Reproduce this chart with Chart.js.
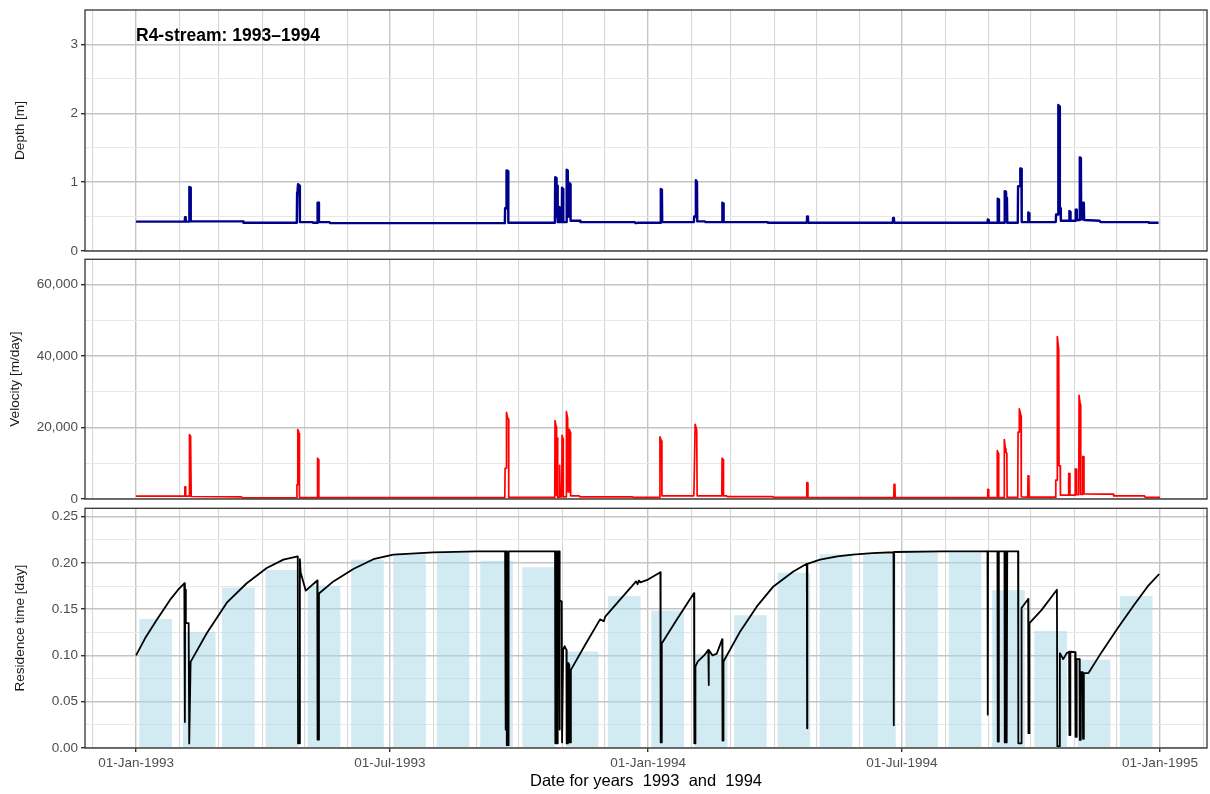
<!DOCTYPE html>
<html lang="en">
<head>
<meta charset="UTF-8">
<title>R4-stream: 1993–1994</title>
<script src="https://cdn.jsdelivr.net/npm/chart.js"></script>
<style>
  body { margin: 0; background: #fff; font-family: "Liberation Sans", Arial, sans-serif; }
  #wrap { position: relative; width: 1210px; height: 794px; overflow: hidden; }
  canvas { position: absolute; left: 0; }
  #title { position: absolute; left: 136px; top: 25px; font-weight: bold; font-size: 17.5px; color: #000; white-space: nowrap; }
</style>
</head>
<body>
<div id="wrap">
  <canvas id="depthChart" width="1210" height="262" style="top:0px"></canvas>
  <canvas id="velChart" width="1210" height="262" style="top:248px"></canvas>
  <canvas id="resChart" width="1210" height="298" style="top:496px"></canvas>
  <div id="title">R4-stream: 1993–1994</div>
</div>

<script>
// x values are days since 01-Jan-1993
const majorDays = [0, 181, 365, 546, 730];
const majorLabels = ['01-Jan-1993', '01-Jul-1993', '01-Jan-1994', '01-Jul-1994', '01-Jan-1995'];

// Depth [m]
const depthPts = [
  [0,0.427],[34.7,0.427],[34.9,0.49],[35.3,0.48],[35.5,0.427],[37.8,0.427],[38.0,0.93],[38.8,0.92],[39.0,0.43],
  [76.3,0.43],[76.6,0.41],[114.6,0.41],[114.8,0.85],[115.2,0.90],[115.5,0.97],[116.5,0.95],[116.8,0.42],
  [126,0.42],[126.3,0.41],[129.2,0.41],[129.4,0.70],[130.2,0.70],[130.4,0.42],[138,0.42],[138.3,0.405],
  [262.9,0.405],[263.1,0.62],[263.9,0.62],[264.1,1.17],[265.2,1.16],[265.4,0.41],
  [298.6,0.41],[298.8,1.07],[299.6,1.06],[299.7,0.5],[299.9,0.955],[300.4,0.95],[300.6,0.42],[301.6,0.42],
  [301.8,0.64],[302.3,0.62],[302.5,0.42],[303.5,0.42],[303.7,0.92],[304.4,0.9],[304.6,0.42],[306.8,0.42],
  [307.0,1.18],[307.8,1.17],[308.0,0.5],[308.7,0.5],[308.9,0.99],[309.6,0.97],[309.8,0.44],[316.5,0.44],
  [316.8,0.42],[355.5,0.42],[356,0.405],[358,0.41],
  [373.9,0.41],[374.1,0.9],[374.9,0.89],[375.1,0.42],
  [397.7,0.42],[397.9,0.5],[398.9,0.5],[399.1,1.03],[399.9,1.0],[400.1,0.43],[405.6,0.43],[405.9,0.42],
  [417.8,0.42],[418.0,0.70],[418.7,0.69],[418.9,0.42],[450,0.42],[450.5,0.41],
  [478.2,0.41],[478.4,0.5],[479.0,0.49],[479.2,0.41],
  [539.5,0.41],[539.7,0.48],[540.3,0.47],[540.5,0.41],
  [607.0,0.41],[607.2,0.46],[607.7,0.45],[607.9,0.41],
  [614.1,0.41],[614.3,0.76],[615.0,0.75],[615.2,0.41],[619.1,0.41],[619.3,0.87],[620.2,0.86],[620.4,0.77],
  [620.9,0.76],[621.1,0.41],[628.6,0.41],[628.8,0.94],[630.2,0.94],[630.4,1.2],[631.2,1.19],[631.4,0.42],
  [635.9,0.42],[636.1,0.56],[636.7,0.55],[636.9,0.42],[655.7,0.42],[655.9,0.53],[657.3,0.53],[657.5,2.12],
  [658.4,2.1],[658.6,0.63],[659.1,0.62],[659.3,0.44],[665.2,0.44],[665.4,0.58],[666.0,0.57],[666.2,0.44],
  [669.7,0.44],[669.9,0.6],[670.5,0.6],[670.7,0.45],[672.6,0.45],[672.8,1.36],[673.6,1.35],[673.8,0.46],
  [674.9,0.46],[675.1,0.7],[675.7,0.69],[675.9,0.45],[687,0.44],[687.5,0.42],[721.5,0.42],[722,0.41],[729,0.41]
];

// Velocity [m/day]
const velocityPts = [
  [0,800],[34.6,800],[34.8,3400],[35.2,3400],[35.4,800],[37.9,800],[38.1,18000],[38.7,17600],[38.9,16800],
  [39.3,700],[75,600],[76,350],
  [114.5,350],[114.7,4000],[115.1,4000],[115.3,19400],[115.8,19000],[116.2,18300],[116.5,400],
  [129.2,400],[129.4,11400],[130.0,11000],[130.3,400],
  [262.9,400],[263.1,8600],[263.9,8600],[264.1,24200],[265.0,22400],[265.5,22300],[265.7,450],
  [298.5,450],[298.7,21900],[299.5,20200],[299.7,1000],[299.9,17300],[300.4,17000],[300.6,500],[301.6,500],
  [301.8,9400],[302.2,9000],[302.4,600],[303.5,600],[303.7,17800],[304.4,16800],[304.6,600],[306.6,600],
  [306.8,24400],[307.7,22500],[308.0,2000],[308.7,2000],[308.9,19500],[309.6,18600],[309.8,900],
  [316,850],[316.5,600],[354,600],[354.5,450],
  [373.3,450],[373.5,17400],[374.6,16200],[374.9,900],
  [397.6,850],[397.8,3300],[398.4,3300],[398.6,20900],[399.7,19300],[400.0,900],
  [417.6,850],[417.8,11400],[418.6,11000],[418.8,850],[421,850],[421.5,650],[454,650],[454.5,450],
  [478.0,450],[478.2,4600],[478.8,4500],[479.0,420],
  [540.2,400],[540.4,4100],[541.0,4000],[541.2,380],
  [607.0,380],[607.2,2700],[607.7,2600],[607.9,380],
  [613.8,380],[614.0,13500],[614.8,12700],[615.0,400],
  [618.8,400],[619.0,16600],[619.8,14000],[620.2,13000],[620.8,12800],[621.0,450],
  [628.6,450],[628.8,18700],[629.5,18700],[629.7,25200],[630.9,23200],[631.1,600],
  [635.7,500],[635.9,6500],[636.5,6400],[636.7,500],
  [655.5,500],[655.7,5300],[656.6,5300],[656.8,45400],[657.8,41700],[658.0,9300],[658.8,9300],[659.0,1100],
  [664.7,1100],[664.9,7200],[665.6,7100],[665.8,1100],
  [669.4,1100],[669.6,8400],[670.4,8300],[670.6,1200],
  [672.1,1200],[672.3,29000],[673.2,26300],[673.5,1300],
  [674.7,1300],[674.9,11900],[675.6,11800],[675.8,1400],
  [690,1350],[696.6,1350],[697,850],[719,850],[719.5,450],[730,450]
];

// Residence time [day]
const residencePts = [
  [0,0.100],[7,0.12],[14.8,0.1385],[24.2,0.160],[30,0.171],[34.4,0.178],[34.8,0.028],[35.0,0.171],
  [35.5,0.135],[37.5,0.135],[37.9,0.005],[38.4,0.005],[38.9,0.093],
  [50.4,0.124],[64.7,0.157],[78.9,0.178],[93.2,0.1945],[105,0.2035],[115.3,0.207],[115.5,0.005],
  [116.4,0.005],[116.8,0.204],[117.3,0.19],[121.0,0.170],[129.2,0.181],[129.4,0.009],[130.0,0.009],[130.4,0.167],
  [140.7,0.180],[154.9,0.1934],[169.2,0.204],[183.4,0.2089],[212,0.2114],[243,0.2125],[263.1,0.2125],
  [263.3,0.02],[263.7,0.2125],[264.1,0.2125],[264.3,0.003],[265.3,0.003],[265.6,0.2125],
  [298.7,0.2125],[298.9,0.005],[299.5,0.005],[299.7,0.2125],[299.9,0.005],[300.4,0.005],[300.6,0.2125],
  [301.6,0.2125],[301.8,0.02],[302.2,0.16],[303.5,0.158],[303.7,0.006],[304.3,0.006],[304.5,0.106],
  [305.5,0.11],[306.8,0.106],[307.0,0.005],[307.9,0.005],[308.1,0.092],[308.8,0.09],[308.9,0.006],
  [309.7,0.006],[310,0.0844],
  [320,0.111],[330.8,0.139],[333.5,0.137],[334.5,0.142],[344.9,0.160],[356.5,0.180],[357.5,0.177],
  [358.5,0.181],[359.5,0.179],[365,0.182],[373.8,0.19],[374.0,0.006],[374.6,0.006],[374.8,0.113],
  [386,0.14],[397.8,0.1674],[398.0,0.005],[398.6,0.005],[398.8,0.088],[400.5,0.0935],[405,0.1],
  [408.0,0.106],[408.2,0.068],[408.4,0.106],[411,0.1],[414,0.102],[417.9,0.1176],[418.1,0.008],
  [418.6,0.008],[418.8,0.0934],
  [430.7,0.126],[442.6,0.153],[454.4,0.1746],[468.6,0.1908],[478.2,0.199],[478.4,0.0213],[478.6,0.199],
  [487.6,0.2035],[500,0.207],[511,0.209],[525,0.2105],[540.0,0.2115],[540.2,0.0246],[540.4,0.2118],
  [575,0.2125],[607.0,0.2125],[607.2,0.036],[607.4,0.2125],[614.1,0.2125],[614.3,0.007],[614.9,0.007],
  [615.1,0.2125],[619.1,0.2125],[619.3,0.006],[619.8,0.006],[620.0,0.2125],[620.3,0.2125],[620.5,0.006],
  [620.9,0.006],[621.1,0.2125],[628.8,0.2125],[629.0,0.005],[630.9,0.005],[631.3,0.1512],[636.0,0.161],
  [636.2,0.016],[636.6,0.016],[636.9,0.135],[645.5,0.149],[656.5,0.171],[656.8,0.002],[658.3,0.002],
  [658.6,0.1025],[661,0.096],[663.5,0.1025],[665.2,0.104],[665.4,0.014],[665.9,0.014],[666.1,0.104],
  [669.5,0.1036],[669.8,0.012],[670.4,0.012],[670.6,0.096],[672.6,0.096],[672.8,0.0087],[673.5,0.0087],
  [673.7,0.082],[674.9,0.082],[675.1,0.01],[675.6,0.01],[675.8,0.0808],[679,0.081],
  [687.9,0.1025],[699.8,0.1295],[711.6,0.1548],[721.2,0.1746],[729.4,0.188]
];

// monthly mean residence time, Jan-1993 .. Dec-1994
const barValues = [
  0.139, 0.125, 0.173, 0.192, 0.175, 0.203, 0.209, 0.211, 0.202, 0.195, 0.104, 0.164,
  0.148, 0.101, 0.143, 0.189, 0.209, 0.209, 0.211, 0.211, 0.170, 0.126, 0.095, 0.164
];

const depthMajor = [0, 1, 2, 3], depthMinor = [0.5, 1.5, 2.5];
const velMajor = [0, 20000, 40000, 60000], velMinor = [10000, 30000, 50000];
const resMajor = [0, 0.05, 0.10, 0.15, 0.20, 0.25], resMinor = [0.025, 0.075, 0.125, 0.175, 0.225];

const FONT = '"Liberation Sans", Arial, sans-serif';
const X_MIN = -36.4, X_MAX = 763.5;

function dayOf(m) { return (Date.UTC(1993, m, 1) - Date.UTC(1993, 0, 1)) / 864e5; }
const monthDays = [];
for (let m = -1; m <= 25; m++) monthDays.push(dayOf(m));
const barDays = barValues.map((v, i) => dayOf(i) + 14);

const pts = arr => arr.map(([x, y]) => ({ x, y }));
const tickVal = c => (c.tick ? c.tick.value : NaN);
const isMajorX = v => majorDays.includes(v);

// panel border drawn over the data, like ggplot's panel.border
const framePlugin = {
  id: 'frame',
  afterDatasetsDraw(chart) {
    const { ctx, chartArea: a } = chart;
    ctx.save();
    ctx.strokeStyle = '#333';
    ctx.lineWidth = 1.3;
    ctx.strokeRect(a.left, a.top, a.right - a.left, a.bottom - a.top);
    ctx.restore();
  }
};

function xScale(showLabels) {
  return {
    type: 'linear', min: X_MIN, max: X_MAX, offset: false,
    afterBuildTicks: s => { s.ticks = monthDays.map(v => ({ value: v })); },
    afterFit: s => { s.height = showLabels ? 46 : 0; s.paddingLeft = 0; s.paddingRight = 0; },
    border: { display: false },
    grid: {
      offset: false,
      color: c => isMajorX(tickVal(c)) ? '#c6c6c6' : '#d8d8d8',
      lineWidth: c => isMajorX(tickVal(c)) ? 1.4 : 1.1,
      drawTicks: showLabels, tickLength: 4,
      tickColor: c => isMajorX(tickVal(c)) ? '#333' : 'rgba(0,0,0,0)'
    },
    ticks: {
      display: showLabels, autoSkip: false, maxRotation: 0, padding: 3,
      color: '#4d4d4d', font: { size: 13.5, family: FONT },
      callback: v => { const i = majorDays.indexOf(v); return i >= 0 ? majorLabels[i] : ''; }
    },
    title: {
      display: showLabels, text: 'Date for years  1993  and  1994',
      color: '#000', font: { size: 16.5, family: FONT }, padding: { top: 0, bottom: 3 }
    }
  };
}

function yScale(max, major, minor, title, titlePad, fmt) {
  const isMajor = v => major.includes(v);
  return {
    min: 0, max: max,
    afterBuildTicks: s => { s.ticks = major.concat(minor).sort((a, b) => a - b).map(v => ({ value: v })); },
    afterFit: s => { s.width = 85; s.paddingTop = 0; s.paddingBottom = 0; },
    border: { display: false },
    grid: {
      offset: false,
      color: c => isMajor(tickVal(c)) ? '#c4c4c4' : '#e8e8e8',
      lineWidth: c => isMajor(tickVal(c)) ? 1.4 : 1,
      tickLength: 4,
      tickColor: c => isMajor(tickVal(c)) ? '#333' : 'rgba(0,0,0,0)'
    },
    ticks: {
      autoSkip: false, padding: 3, color: '#4d4d4d', font: { size: 13.5, family: FONT },
      callback: v => isMajor(v) ? fmt(v) : ''
    },
    title: {
      display: true, text: title, color: '#1a1a1a',
      font: { size: 13.6, family: FONT }, padding: { top: titlePad, bottom: 0 }
    }
  };
}

function baseOptions(padding, y, showX) {
  return {
    responsive: false, animation: false, devicePixelRatio: 1, events: [],
    layout: { padding: padding },
    plugins: { legend: { display: false }, tooltip: { enabled: false } },
    scales: { x: xScale(showX), y: y }
  };
}

new Chart(document.getElementById('depthChart'), {
  type: 'line',
  data: { datasets: [{
    data: pts(depthPts), borderColor: '#00008b', borderWidth: 2.4,
    pointRadius: 0, tension: 0, borderJoinStyle: 'round'
  }] },
  options: baseOptions({ top: 10, bottom: 11, left: 0, right: 3 },
    yScale(3.5, depthMajor, depthMinor, 'Depth [m]', 12.5, v => String(v)), false),
  plugins: [framePlugin]
});

new Chart(document.getElementById('velChart'), {
  type: 'line',
  data: { datasets: [{
    data: pts(velocityPts), borderColor: '#ff0000', borderWidth: 1.7,
    pointRadius: 0, tension: 0, borderJoinStyle: 'round'
  }] },
  options: baseOptions({ top: 11.3, bottom: 11, left: 0, right: 3 },
    yScale(67000, velMajor, velMinor, 'Velocity [m/day]', 7.5, v => v.toLocaleString('en-US')), false),
  plugins: [framePlugin]
});

new Chart(document.getElementById('resChart'), {
  type: 'bar',
  data: { datasets: [
    {
      type: 'line', order: 0, data: pts(residencePts), borderColor: '#000', borderWidth: 1.8,
      pointRadius: 0, tension: 0, borderJoinStyle: 'round'
    },
    {
      type: 'bar', order: 1, data: barDays.map((d, i) => ({ x: d, y: barValues[i] })),
      backgroundColor: 'rgba(173,216,230,0.55)', borderWidth: 0, barThickness: 32, grouped: false
    }
  ] },
  options: baseOptions({ top: 12.3, bottom: 0, left: 0, right: 3 },
    yScale(0.259, resMajor, resMinor, 'Residence time [day]', 12.5, v => v.toFixed(2)), true),
  plugins: [framePlugin]
});
</script>
</body>
</html>
